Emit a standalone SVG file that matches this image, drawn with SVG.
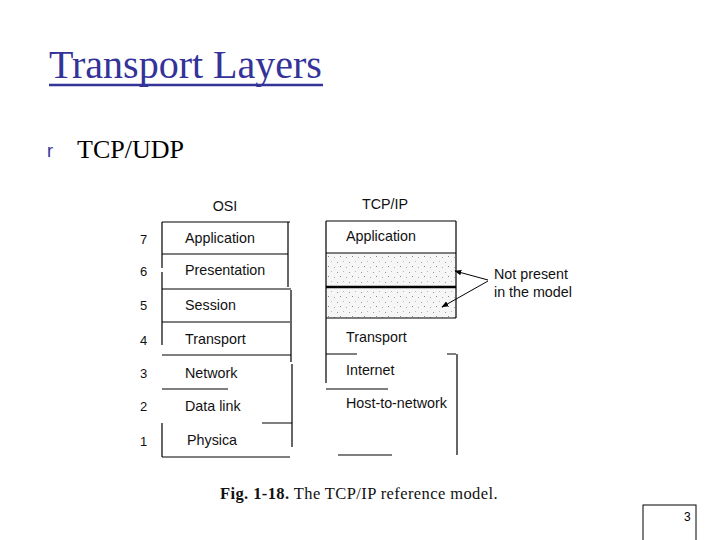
<svg xmlns="http://www.w3.org/2000/svg" width="720" height="540" viewBox="0 0 720 540">
<defs>
<style>
.ln{stroke:#000;stroke-width:1.2;fill:none}
.lbl{font-family:"Liberation Sans",Arial,sans-serif;font-size:14.3px;fill:#111}
.num{font-family:"Liberation Sans",Arial,sans-serif;font-size:13px;fill:#111}
</style>
<pattern id="stip" width="12" height="10" patternUnits="userSpaceOnUse">
<rect width="12" height="10" fill="#f6f6f6"/>
<rect x="1" y="2" width="1" height="1" fill="#999"/>
<rect x="7" y="1" width="1" height="1" fill="#bbb"/>
<rect x="4" y="6" width="1" height="1" fill="#888"/>
<rect x="10" y="7" width="1" height="1" fill="#aaa"/>
</pattern>
<marker id="ah" viewBox="0 0 10 10" refX="9" refY="5" markerWidth="7" markerHeight="7" orient="auto">
<path d="M0,1 L10,5 L0,9 Z" fill="#000"/>
</marker>
</defs>
<rect width="720" height="540" fill="#fff"/>

<g id="title">
<text x="49" y="78" font-family="Liberation Serif,'Times New Roman',serif" font-size="40" fill="#333399">Transport Layers</text>
<line x1="49" y1="85" x2="323" y2="85" stroke="#333399" stroke-width="2.5"/>
</g>
<g id="bullet">
<text x="47" y="157" font-family="Liberation Sans,Arial,sans-serif" font-size="18" fill="#333399">r</text>
<text x="77" y="158" font-family="Liberation Serif,'Times New Roman',serif" font-size="26" fill="#000">TCP/UDP</text>
</g>

<g id="osi">
<text x="225" y="211" text-anchor="middle" class="lbl">OSI</text>
<path class="ln" d="M162,222 H290 M162,254 H288 M162,289 H291 M162,322 H290 M162,355 H291 M162,389 H228 M262,423 H292 M162,457 H290"/>
<path class="ln" d="M162,222 V268 M162,272 V345 M162,423 V457 M288,222 V287 M291,290 V362 M292,364 V447"/>
<g class="num">
<text x="140" y="244">7</text><text x="140" y="276">6</text><text x="140" y="310">5</text><text x="140" y="345">4</text><text x="140" y="378">3</text><text x="140" y="411">2</text><text x="140" y="446">1</text>
</g>
<g class="lbl">
<text x="185" y="243">Application</text><text x="185" y="275">Presentation</text><text x="185" y="310">Session</text><text x="185" y="344">Transport</text><text x="185" y="378">Network</text><text x="185" y="411">Data link</text><text x="187" y="445">Physica</text>
</g>
</g>

<g id="tcpip">
<text x="385" y="209" text-anchor="middle" class="lbl">TCP/IP</text>
<rect x="326" y="253" width="130" height="65" fill="url(#stip)"/>
<path class="ln" d="M326,221 H456 M326,253 H456 M326,318 H456 M326,354 H357 M447,354 H456 M326,389 H388 M338,455 H392"/>
<path d="M326,287 H456" stroke="#000" stroke-width="2.5"/>
<path class="ln" d="M326,221 V383 M456,221 V318 M457,354 V455"/>
<g class="lbl">
<text x="346" y="241">Application</text><text x="346" y="342">Transport</text><text x="346" y="375">Internet</text><text x="346" y="408">Host-to-network</text>
</g>
</g>

<g id="connectors">
<line x1="488" y1="280" x2="455" y2="271" stroke="#000" stroke-width="1" marker-end="url(#ah)"/>
<line x1="488" y1="281" x2="442" y2="307" stroke="#000" stroke-width="1" marker-end="url(#ah)"/>
</g>
<g id="note" class="lbl">
<text x="494" y="279">Not present</text>
<text x="494" y="297">in the model</text>
</g>

<g id="caption">
<text x="220" y="499" font-family="Liberation Serif,'Times New Roman',serif" font-size="16.5" letter-spacing="0.4" fill="#111"><tspan font-weight="bold">Fig.  1-18.</tspan> The TCP/IP reference model.</text>
</g>

<g id="page">
<rect x="643" y="505" width="53" height="40" fill="none" stroke="#000" stroke-width="1"/>
<text x="684" y="521" font-family="Liberation Sans,Arial,sans-serif" font-size="12" fill="#000">3</text>
</g>
</svg>
